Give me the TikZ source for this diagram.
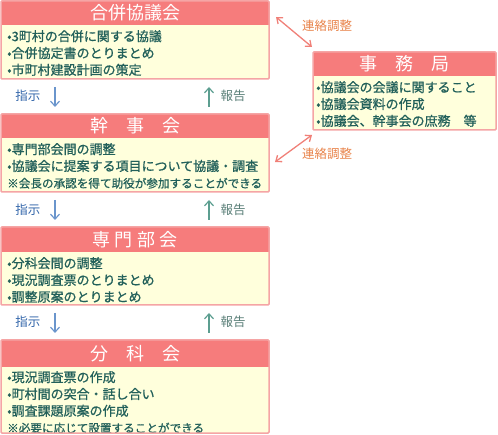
\documentclass[tikz,border=0pt]{standalone}
\usepackage{fontspec}
\setmainfont{Noto Sans CJK JP}
\newfontfamily\itemfont{Noto Sans CJK JP}[FakeBold=0.8]
\usetikzlibrary{arrows.meta}
\definecolor{headfill}{HTML}{F67C7C}
\definecolor{boxline}{HTML}{F5A5A5}
\definecolor{bodyfill}{HTML}{FFFFDC}
\definecolor{itemtext}{HTML}{22605A}
\definecolor{shijitext}{HTML}{3366AA}
\definecolor{shijiarrow}{HTML}{6A95CC}
\definecolor{houkokutext}{HTML}{5A7F78}
\definecolor{houkokuarrow}{HTML}{5C9E90}
\definecolor{renrakutext}{HTML}{E8834A}
\definecolor{renrakuarrow}{HTML}{F08078}
\begin{document}
\begin{tikzpicture}[x=1pt,y=-1pt,
  panel/.style={fill=bodyfill, minimum width=268pt, inner sep=0pt, outer sep=0pt, anchor=north west},
  frame/.style={draw=boxline, line width=1.5pt, rounded corners=1pt},
  head/.style={fill=headfill, text=white, font=\fontsize{18}{20}\selectfont, minimum height=24pt, inner sep=0pt, outer sep=0pt, anchor=north},
  items/.style={text=itemtext, font=\itemfont\fontsize{13}{16.8}\selectfont, align=left, inner sep=0pt, anchor=north west},
  shiji/.style={-{Straight Barb[length=5pt,width=9pt]}, shijiarrow, line width=1.2pt},
  houkoku/.style={-{Straight Barb[length=5pt,width=9pt]}, houkokuarrow, line width=1.2pt},
  renraku/.style={{Straight Barb[length=5pt,width=8pt]}-{Straight Barb[length=5pt,width=8pt]}, renrakuarrow, line width=1.3pt},
  tag/.style={font=\fontsize{12.5}{14}\selectfont, inner sep=0pt}]
  \useasboundingbox (0,0) rectangle (498,435);

  \node[panel, minimum height=78pt] (kyogi) at (1,1) {};
  \node[head, minimum width=268pt] (kyogiHead) at (kyogi.north) {合併協議会};
  \node[items] (kyogiList) at ([xshift=6pt,yshift=-5pt]kyogiHead.south west)
    {•3町村の合併に関する協議\\•合併協定書のとりまとめ\\•市町村建設計画の策定};
  \draw[frame] (kyogi.north west) rectangle (kyogi.south east);

  \node[panel, minimum height=78pt] (kanji) at (1,114) {};
  \node[head, minimum width=268pt] (kanjiHead) at (kanji.north) {幹　事　会};
  \node[items] (kanjiList) at ([xshift=6pt,yshift=-5pt]kanjiHead.south west)
    {•専門部会間の調整\\•協議会に提案する項目について協議・調査\\{\fontsize{11.6}{14}\selectfont ※会長の承認を得て助役が参加することができる}};
  \draw[frame] (kanji.north west) rectangle (kanji.south east);

  \node[panel, minimum height=78pt] (senmon) at (1,227) {};
  \node[head, minimum width=268pt, minimum height=25pt] (senmonHead) at (senmon.north) {専 門 部 会};
  \node[items] (senmonList) at ([xshift=6pt,yshift=-5pt]senmonHead.south west)
    {•分科会間の調整\\•現況調査票のとりまとめ\\•調整原案のとりまとめ};
  \draw[frame] (senmon.north west) rectangle (senmon.south east);

  \node[panel, minimum height=93pt] (bunka) at (1,340) {};
  \node[head, minimum width=268pt, minimum height=27pt] (bunkaHead) at (bunka.north) {分　科　会};
  \node[items] (bunkaList) at ([xshift=6pt,yshift=-4pt]bunkaHead.south west)
    {•現況調査票の作成\\•町村間の突合・話し合い\\•調査課題原案の作成\\{\fontsize{11.6}{14}\selectfont ※必要に応じて設置することができる}};
  \draw[frame] (bunka.north west) rectangle (bunka.south east);

  \node[panel, minimum width=183pt, minimum height=78pt] (jimu) at (313,52) {};
  \node[head, minimum width=183pt] (jimuHead) at (jimu.north) {事　務　局};
  \node[items] (jimuList) at ([xshift=3pt,yshift=-5pt]jimuHead.south west)
    {•協議会の会議に関すること\\•協議会資料の作成\\•協議会、幹事会の庶務　等};
  \draw[frame] (jimu.north west) rectangle (jimu.south east);

  \draw[shiji] ([xshift=54pt,yshift=-8pt]kyogi.south west) -- ([xshift=54pt,yshift=7pt]kanji.north west);
  \draw[houkoku] ([xshift=208pt,yshift=7pt]kanji.north west) -- ([xshift=208pt,yshift=-8pt]kyogi.south west);
  \node[tag, text=shijitext] (shiji1) at ([xshift=27pt,yshift=-17pt]kyogi.south west) {指示};
  \node[tag, text=houkokutext] (houkoku1) at ([xshift=232pt,yshift=-17pt]kyogi.south west) {報告};

  \draw[shiji] ([xshift=54pt,yshift=-8pt]kanji.south west) -- ([xshift=54pt,yshift=7pt]senmon.north west);
  \draw[houkoku] ([xshift=208pt,yshift=7pt]senmon.north west) -- ([xshift=208pt,yshift=-8pt]kanji.south west);
  \node[tag, text=shijitext] (shiji2) at ([xshift=27pt,yshift=-18pt]kanji.south west) {指示};
  \node[tag, text=houkokutext] (houkoku2) at ([xshift=232pt,yshift=-18pt]kanji.south west) {報告};

  \draw[shiji] ([xshift=54pt,yshift=-8pt]senmon.south west) -- ([xshift=54pt,yshift=7pt]bunka.north west);
  \draw[houkoku] ([xshift=208pt,yshift=7pt]bunka.north west) -- ([xshift=208pt,yshift=-8pt]senmon.south west);
  \node[tag, text=shijitext] (shiji3) at ([xshift=27pt,yshift=-17pt]senmon.south west) {指示};
  \node[tag, text=houkokutext] (houkoku3) at ([xshift=232pt,yshift=-17pt]senmon.south west) {報告};

  \draw[renraku] ([xshift=7pt,yshift=-16pt]kyogi.north east) -- ([xshift=-1pt,yshift=5pt]jimu.north west);
  \draw[renraku] ([xshift=-1pt,yshift=-5pt]jimu.south west) -- ([xshift=6pt,yshift=-9pt]kanji.east);
  \node[tag, text=renrakutext] (renraku1) at (327,26) {連絡調整};
  \node[tag, text=renrakutext] (renraku2) at (327,154) {連絡調整};
\end{tikzpicture}
\end{document}
